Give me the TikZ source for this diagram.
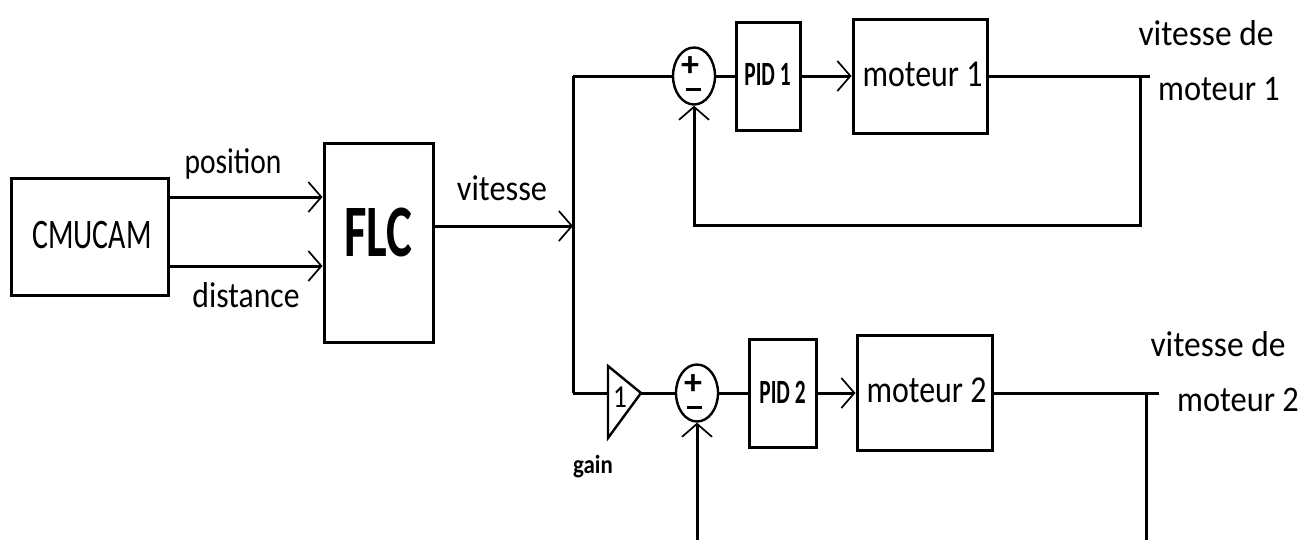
\documentclass[tikz,border=0pt]{standalone}
\usepackage{fontspec}
\setmainfont{Carlito}
\usetikzlibrary{arrows.meta,shapes.geometric}
\newcommand\sqz[2]{\scalebox{#1}[1]{#2}}
\tikzset{
  blk/.style={draw, line width=3pt, inner sep=0pt},
  sumnode/.style={draw, ellipse, line width=2.4pt, minimum width=42pt, minimum height=57pt, inner sep=0pt},
  wire/.style={line width=3pt},
  barb/.style={wire, -{Straight Barb[length=13pt,width=30pt,line width=1.7pt]}},
  lbl/.style={inner sep=0pt, font=\fontsize{36}{40}\selectfont},
  sgn/.style={inner sep=0pt, font=\fontsize{36}{38}\selectfont\bfseries},
}
\begin{document}
\begin{tikzpicture}[x=1pt,y=-1pt]
\useasboundingbox[fill=white] (0,0) rectangle (1305,539);

% blocks
\node[blk, minimum width=157pt, minimum height=117pt] (cmu) at (89.5,236.5) {};
\node[lbl, font=\fontsize{42}{46}\selectfont] (tcmu) at (92,235) {\sqz{0.71}{CMUCAM}};
\node[blk, minimum width=109pt, minimum height=199pt] (flc) at (378.5,242.5) {};
\node[lbl, font=\fontsize{74}{80}\selectfont\bfseries] (tflc) at (378.5,232) {\sqz{0.66}{FLC}};

\node[sumnode] (s1) at (694,76) {};
\node[sgn] (s1p) at (690,67) {+};
\node[sgn] (s1m) at (693,89) {\rule{15pt}{3pt}};
\node[blk, minimum width=64pt, minimum height=108pt] (pid1) at (768,76) {};
\node[lbl, font=\fontsize{34}{38}\selectfont\bfseries] (tpid1) at (767.5,74) {\sqz{0.63}{PID 1}};
\node[blk, minimum width=134pt, minimum height=114pt] (m1) at (920,76) {};
\node[lbl, font=\fontsize{38}{42}\selectfont] (tm1) at (922.5,74) {\sqz{0.84}{moteur 1}};

\node[sumnode] (s2) at (697,393) {};
\node[sgn] (s2p) at (693,385) {+};
\node[sgn] (s2m) at (694,407) {\rule{15pt}{3pt}};
\node[blk, minimum width=67pt, minimum height=108pt] (pid2) at (782.5,393) {};
\node[lbl, font=\fontsize{34}{38}\selectfont\bfseries] (tpid2) at (782.5,392) {\sqz{0.63}{PID 2}};
\node[blk, minimum width=135pt, minimum height=115pt] (m2) at (924.5,393) {};
\node[lbl, font=\fontsize{38}{42}\selectfont] (tm2) at (926.5,390) {\sqz{0.84}{moteur 2}};

% gain
\coordinate (gin) at (608,393);
\coordinate (gtip) at (641,393);
\draw[line width=2.4pt, line join=miter] (608,366) -- (gtip) -- (608,438) -- cycle;
\node[inner sep=0pt, font=\fontsize{32}{34}\selectfont] (gone) at (620,397) {\sqz{0.85}{1}};
\node[inner sep=0pt, font=\fontsize{26}{28}\selectfont\bfseries] (lgain) at (593,467) {\sqz{0.88}{gain}};

% labels
\node[lbl] (lpos) at (233,164) {\sqz{0.82}{position}};
\node[lbl] (ldist) at (246,295) {\sqz{0.88}{distance}};
\node[lbl] (lvit) at (502,188) {\sqz{0.9}{vitesse}};
\node[lbl] (lv1a) at (1206,33) {\sqz{0.93}{vitesse de}};
\node[lbl] (lv1b) at (1219,89) {\sqz{0.9}{moteur 1}};
\node[lbl] (lv2a) at (1218,344) {\sqz{0.93}{vitesse de}};
\node[lbl] (lv2b) at (1238,400) {\sqz{0.9}{moteur 2}};

% coordinates
\coordinate (ypos) at (0,197);
\coordinate (ydist) at (0,266);
\coordinate (jv) at (573,226);
\coordinate (jt) at (573,76);
\coordinate (jb) at (573,393);
\coordinate (j1) at (1140,76);
\coordinate (out1) at (1150,76);
\coordinate (fb1) at (1140,225);
\coordinate (j2) at (1146,393);
\coordinate (out2) at (1159,393);
\coordinate (fb2) at (1146,560);

% connectors
\draw[barb] (cmu.east |- ypos) -- (flc.west |- ypos);
\draw[barb] (cmu.east |- ydist) -- (flc.west |- ydist);
\draw[barb] (flc.east |- jv) -- (jv);
\draw[wire] (jt) -- (jb);
\draw[wire] (jt) -- (s1.west);
\draw[wire] (s1.east) -- (pid1.west);
\draw[barb] (pid1.east) -- (m1.west);
\draw[wire] (m1.east) -- (out1);
\draw[barb] (j1) -- (fb1) -| (s1.south);

\draw[wire] (jb) -- (gin);
\draw[wire] (gtip) -- (s2.west);
\draw[wire] (s2.east) -- (pid2.west);
\draw[barb] (pid2.east) -- (m2.west);
\draw[wire] (m2.east) -- (out2);
\draw[barb] (j2) -- (fb2) -| (s2.south);
\end{tikzpicture}
\end{document}
